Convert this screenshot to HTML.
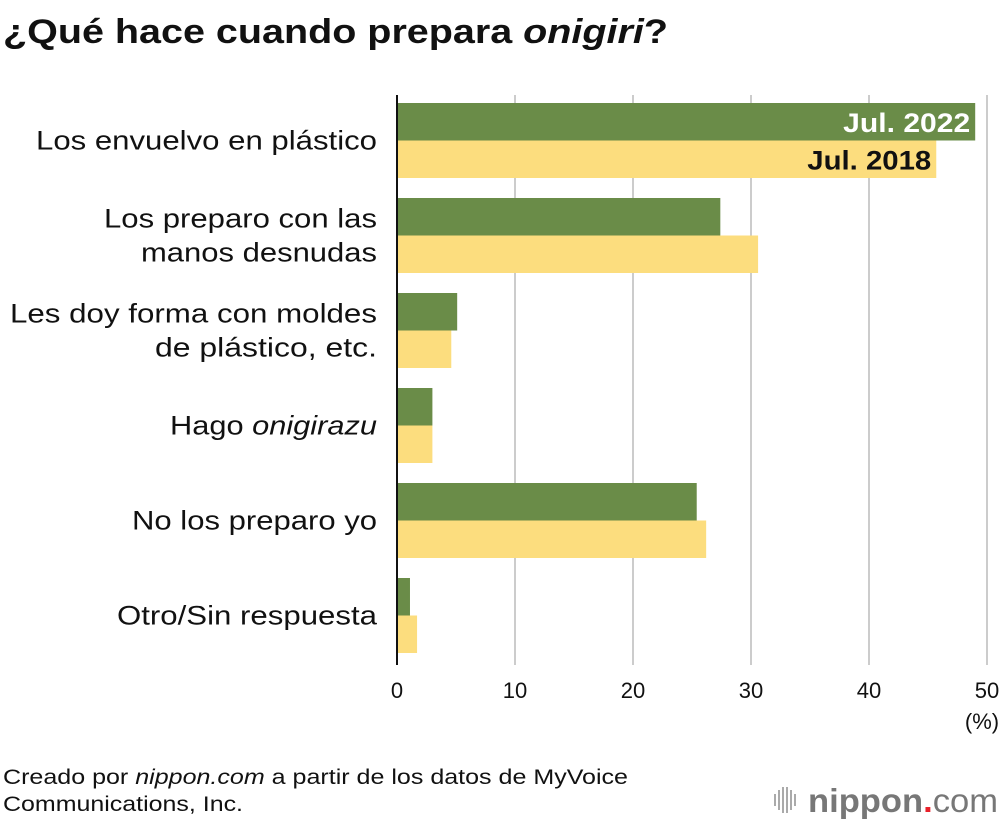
<!DOCTYPE html>
<html><head><meta charset="utf-8"><style>
body{margin:0;background:#fff;}
svg{display:block;font-family:"Liberation Sans",Arial,sans-serif;}
</style></head><body>
<svg id="chart" width="1000" height="824" viewBox="0 0 1000 824">
<text x="3" y="43" font-size="34" font-weight="bold" fill="#111" textLength="665" lengthAdjust="spacingAndGlyphs">¿Qué hace cuando prepara <tspan font-style="italic">onigiri</tspan>?</text>
<g id="grid"></g>
<g id="bars"></g>
<g id="labels" font-size="27" fill="#111" text-anchor="end"></g>
<g id="ticks" font-size="22" fill="#111" text-anchor="middle"></g>
<text x="982" y="729" font-size="22" text-anchor="middle" fill="#111">(%)</text>
<text x="3" y="784" font-size="21" fill="#111" textLength="625" lengthAdjust="spacingAndGlyphs">Creado por <tspan font-style="italic">nippon.com</tspan> a partir de los datos de MyVoice</text>
<text x="3" y="811" font-size="21" fill="#111" textLength="240" lengthAdjust="spacingAndGlyphs">Communications, Inc.</text>
<g>
<g stroke="#aaa" stroke-width="2">
<line x1="775" y1="794" x2="775" y2="806"/><line x1="779" y1="790" x2="779" y2="810"/><line x1="783" y1="787" x2="783" y2="813"/><line x1="787" y1="787" x2="787" y2="813"/><line x1="791" y1="790" x2="791" y2="810"/><line x1="795" y1="794" x2="795" y2="806"/></g>
<text x="808" y="812" font-size="33" font-weight="bold" fill="#777" textLength="190" lengthAdjust="spacingAndGlyphs">nippon<tspan fill="#e8202a">.</tspan><tspan font-weight="normal">com</tspan></text>
</g>
</svg>
<script>
const categories=[["Los envuelvo en plástico"],["Los preparo con las","manos desnudas"],["Les doy forma con moldes","de plástico, etc."],["Hago |onigirazu"],["No los preparo yo"],["Otro/Sin respuesta"]];
const series2022=[49.0,27.4,5.1,3.0,25.4,1.1];
const series2018=[45.7,30.6,4.6,3.0,26.2,1.7];
const tickValues=[0,10,20,30,40,50];
const labelWidths=[[341],[273,236],[367,222],[207],[245],[260]];
const NS="http://www.w3.org/2000/svg";
const x0=397,x1=987,xmax=50;
const xs=v=>x0+(x1-x0)*v/xmax;
const top0=103,groupH=95,barH=37.5;
function mk(t,a,p){const e=document.createElementNS(NS,t);for(const k in a)e.setAttribute(k,a[k]);p.appendChild(e);return e;}
const grid=document.getElementById('grid'),bars=document.getElementById('bars'),labels=document.getElementById('labels'),ticks=document.getElementById('ticks');
tickValues.forEach((v,i)=>{
 if(v>0){const l=mk('line',{x1:xs(v),x2:xs(v),y1:95,y2:665,stroke:'#ccc','stroke-width':2},grid);
 
 }
 const t=mk('text',{x:xs(v),y:698},ticks);t.textContent=v;
 
 
});
categories.forEach((c,i)=>{
 const y=top0+i*groupH;
 const g=mk('rect',{x:x0,y:y,width:xs(series2022[i])-x0,height:barH,fill:'#6a8c48'},bars);
 
 
 const b=mk('rect',{x:x0,y:y+barH,width:xs(series2018[i])-x0,height:barH,fill:'#fcdd7e'},bars);
 
 
 const cy=y+barH;
 const n=c.length;
 c.forEach((line,j)=>{
  const t=mk('text',{x:377,y:cy+9+(j-(n-1)/2)*34,textLength:labelWidths[i][j],lengthAdjust:'spacingAndGlyphs'},labels);
  if(line.includes('|')){const p=line.split('|');t.appendChild(document.createTextNode(p[0]));const s=mk('tspan',{'font-style':'italic'},t);s.textContent=p[1];}
  else t.textContent=line;
  
  
 });
});
const l1=mk('text',{x:xs(series2022[0])-5,y:top0+29,'font-size':27,'font-weight':'bold',fill:'#fff','text-anchor':'end',textLength:127,lengthAdjust:'spacingAndGlyphs'},bars);
l1.textContent='Jul. 2022';


const l2=mk('text',{x:xs(series2018[0])-5,y:top0+barH+29,'font-size':27,'font-weight':'bold',fill:'#111','text-anchor':'end',textLength:124,lengthAdjust:'spacingAndGlyphs'},bars);
l2.textContent='Jul. 2018';


const ax=mk('line',{x1:x0,x2:x0,y1:95,y2:665,stroke:'#111','stroke-width':2},bars);


</script>
</body></html>
